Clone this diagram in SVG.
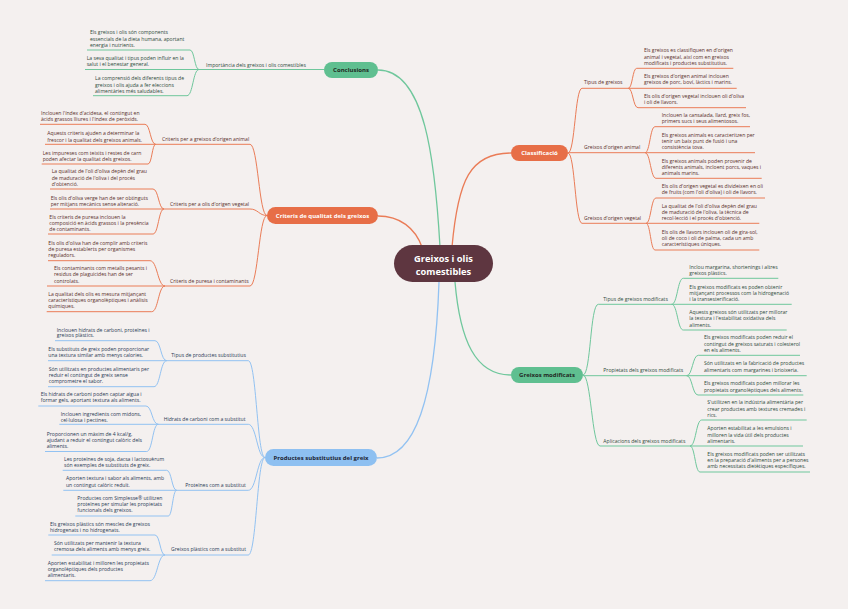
<svg xmlns="http://www.w3.org/2000/svg" width="848" height="609" viewBox="0 0 848 609">
<style>
.t{font-family:"Open Sans","Liberation Sans",sans-serif;font-size:5.1px}
.to{fill:#5a2f2b}.tg{fill:#2f4a3c}.tb{fill:#2a3a55}
.c{fill:none;stroke-width:1}
.co{stroke:#ea7c57}.cg{stroke:#6fc79c}.cb{stroke:#92c2f2}
.m{stroke-width:1.3}
.nt{font-family:"Open Sans","Liberation Sans",sans-serif;font-size:6px;font-weight:bold;text-anchor:middle}
.ct{font-family:"Open Sans","Liberation Sans",sans-serif;font-size:9.3px;font-weight:bold;text-anchor:middle;fill:#ffffff}
</style>
<rect width="848" height="609" fill="#f4f0ef"/>
<g id="connectors">
  <!-- main -->
  <path class="c cg m" d="M378 70 C425 70,435 160,440 247"/>
  <path class="c co m" d="M452 247 C458 180,470 153,511 153"/>
  <path class="c co m" d="M378 216 C400 216,415 228,422 247"/>
  <path class="c cb m" d="M439 282 C435 400,415 458,377 458"/>
  <path class="c cg m" d="M455 282 C460 340,475 375,511 375"/>
  <!-- Conclusions -->
  <path class="c cg" d="M85 69.5 H324"/>
  <path class="c cg" d="M87 50 H190 C194.5 50,194.5 69.5,199 69.5"/>
  <path class="c cg" d="M93 95.7 H187 C193 95.7,193 69.5,199 69.5"/>
  <!-- Criteris -->
  <path class="c co" d="M45 144.3 H250 C258 144.3,259 215.5,267 215.5"/>
  <path class="c co" d="M40 124.3 H145 C150.3 124.3,150.3 144.3,155.7 144.3"/>
  <path class="c co" d="M41.7 164 H148 C152 164,152 144.3,155.7 144.3"/>
  <path class="c co" d="M50 209 H250 C258 209,259 215.5,267 215.5"/>
  <path class="c co" d="M50 189 H153 C158.5 189,158.5 209,164 209"/>
  <path class="c co" d="M48 234 H153 C158.5 234,158.5 209,164 209"/>
  <path class="c co" d="M47 286 H250 C258 286,259 215.5,267 215.5"/>
  <path class="c co" d="M48 260.7 H150 C157.5 260.7,157.5 286,165 286"/>
  <path class="c co" d="M46.7 311.7 H151.7 C158.3 311.7,158.3 286,165 286"/>
  <!-- Productes -->
  <path class="c cb" d="M48 360.7 H248.3 C256.5 360.7,257 457.5,265 457.5"/>
  <path class="c cb" d="M55 340.7 H155 C160.8 340.7,160.8 360.7,166.7 360.7"/>
  <path class="c cb" d="M48 386.7 H154 C160.3 386.7,160.3 360.7,166.7 360.7"/>
  <path class="c cb" d="M59.3 424.3 H248.3 C256.5 424.3,257 457.5,265 457.5"/>
  <path class="c cb" d="M38.3 406 H146 C152 406,152 424.3,158.3 424.3"/>
  <path class="c cb" d="M45 451.5 H146.7 C152.5 451.5,152.5 424.3,158.3 424.3"/>
  <path class="c cb" d="M63.3 490.3 H248.3 C256.5 490.3,257 457.5,265 457.5"/>
  <path class="c cb" d="M62.7 470.3 H166.7 C171.7 470.3,171.7 490.3,176.7 490.3"/>
  <path class="c cb" d="M75.3 516 H168.3 C172.5 516,172.5 490.3,176.7 490.3"/>
  <path class="c cb" d="M51.7 555 H248.3 C256.5 555,257 457.5,265 457.5"/>
  <path class="c cb" d="M48.3 535 H155 C160 535,160 555,165 555"/>
  <path class="c cb" d="M45 580.7 H150 C157.5 580.7,157.5 555,165 555"/>
  <!-- Classificacio -->
  <path class="c co" d="M568 153 C575 153,575 88.3,582 88.3 H736.7"/>
  <path class="c co" d="M628.3 88.3 C632.5 88.3,632.5 68.3,636.7 68.3 H733.3"/>
  <path class="c co" d="M628.3 88.3 C633 88.3,633 107.7,638 107.7 H746"/>
  <path class="c co" d="M568 152.7 H755"/>
  <path class="c co" d="M645 152.7 C650 152.7,650 126.7,655 126.7 H750"/>
  <path class="c co" d="M645 152.7 C650.5 152.7,650.5 178.3,656 178.3 H761.7"/>
  <path class="c co" d="M568 153 C575 153,575 223.3,582 223.3 H759.3"/>
  <path class="c co" d="M646 223.3 C651 223.3,651 198,656 198 H765"/>
  <path class="c co" d="M646 223.3 C650.5 223.3,650.5 250,655 250 H759.3"/>
  <!-- Greixos modificats -->
  <path class="c cg" d="M583 375 C591 375,590 304.3,598.3 304.3 H791.7"/>
  <path class="c cg" d="M671.7 304.3 C677.5 304.3,677.5 278.3,683.3 278.3 H778.3"/>
  <path class="c cg" d="M671.7 304.3 C677.5 304.3,677.5 330,683.3 330 H786.7"/>
  <path class="c cg" d="M583 375.7 H806.7"/>
  <path class="c cg" d="M686.7 375.7 C692.5 375.7,692.5 355.3,698.3 355.3 H800"/>
  <path class="c cg" d="M686.7 375.7 C692.3 375.7,692.3 395,698 395 H803.3"/>
  <path class="c cg" d="M583 375 C591 375,592 446,600 446 H803"/>
  <path class="c cg" d="M690 446 C696 446,696 420,701.7 420 H806.7"/>
  <path class="c cg" d="M690 446 C695 446,695 472,700 472 H810"/>
</g>

<g id="center">
  <rect x="394" y="245" width="99" height="37" rx="18.5" fill="#5e3640"/>
  <text class="ct" x="443.5" y="261.5">Greixos i olis</text>
  <text class="ct" x="443.5" y="274.5">comestibles</text>
</g>

<g id="conclusions">
  <rect x="324" y="62" width="54" height="16" rx="8" fill="#5fbf90"/>
  <text class="nt" x="351" y="72.2" fill="#1f2a24">Conclusions</text>
</g>
<g id="conc-b1" class="t tg"><text x="206" y="67">Importància dels greixos i olis comestibles</text></g>
<g id="conc-l1" class="t tg"><text x="90" y="34">Els greixos i olis són components</text><text x="90" y="40.5">essencials de la dieta humana, aportant</text><text x="90" y="47">energia i nutrients.</text></g>
<g id="conc-l2" class="t tg"><text x="86.7" y="60.4">La seva qualitat i tipus poden influir en la</text><text x="86.7" y="66.4">salut i el benestar general.</text></g>
<g id="conc-l3" class="t tg"><text x="95" y="80">La comprensió dels diferents tipus de</text><text x="95" y="86.5">greixos i olis ajuda a fer eleccions</text><text x="95" y="93">alimentàries més saludables.</text></g>

<g id="criteris">
  <rect x="267" y="207" width="111" height="17" rx="8.5" fill="#e76e47"/>
  <text class="nt" x="322.5" y="217.7" fill="#ffffff">Criteris de qualitat dels greixos</text>
</g>
<g id="crit-b1" class="t to"><text x="162" y="141">Criteris per a greixos d'origen animal</text></g>
<g id="crit-b2" class="t to"><text x="170" y="206">Criteris per a olis d'origen vegetal</text></g>
<g id="crit-b3" class="t to"><text x="170" y="283">Criteris de puresa i contaminants</text></g>
<g id="crit-a1" class="t to"><text x="41" y="114.7">Inclouen l'índex d'acidesa, el contingut en</text><text x="41" y="121.2">àcids grassos lliures i l'índex de peròxids.</text></g>
<g id="crit-a2" class="t to"><text x="47.3" y="135.4">Aquests criteris ajuden a determinar la</text><text x="47.3" y="141.5">frescor i la qualitat dels greixos animals.</text></g>
<g id="crit-a3" class="t to"><text x="42.7" y="155">Les impureses com teixits i restes de carn</text><text x="42.7" y="161">poden afectar la qualitat dels greixos.</text></g>
<g id="crit-v1" class="t to"><text x="51.7" y="173.4">La qualitat de l'oli d'oliva depèn del grau</text><text x="51.7" y="179.7">de maduració de l'oliva i del procés</text><text x="51.7" y="186">d'obtenció.</text></g>
<g id="crit-v2" class="t to"><text x="50.7" y="199.7">Els olis d'oliva verge han de ser obtinguts</text><text x="50.7" y="205.7">per mitjans mecànics sense alteració.</text></g>
<g id="crit-v3" class="t to"><text x="49.3" y="219">Els criteris de puresa inclouen la</text><text x="49.3" y="225">composició en àcids grassos i la presència</text><text x="49.3" y="231">de contaminants.</text></g>
<g id="crit-p1" class="t to"><text x="48.3" y="245">Els olis d'oliva han de complir amb criteris</text><text x="48.3" y="251">de puresa establerts per organismes</text><text x="48.3" y="257">reguladors.</text></g>
<g id="crit-p2" class="t to"><text x="54" y="270.4">Els contaminants com metalls pesants i</text><text x="54" y="276.4">residus de plaguicides han de ser</text><text x="54" y="282.7">controlats.</text></g>
<g id="crit-p3" class="t to"><text x="48.3" y="295.7">La qualitat dels olis es mesura mitjançant</text><text x="48.3" y="302.4">característiques organolèptiques i anàlisis</text><text x="48.3" y="308.4">químiques.</text></g>

<g id="productes">
  <rect x="265" y="449" width="112" height="17" rx="8.5" fill="#8ec0f1"/>
  <text class="nt" x="321" y="459.8" fill="#1c2433">Productes substitutius del greix</text>
</g>
<g id="prod-b1" class="t tb"><text x="171.3" y="357">Tipus de productes substitutius</text></g>
<g id="prod-b2" class="t tb"><text x="163.7" y="421">Hidrats de carboni com a substitut</text></g>
<g id="prod-b3" class="t tb"><text x="185.3" y="487">Proteïnes com a substitut</text></g>
<g id="prod-b4" class="t tb"><text x="171" y="551.4">Greixos plàstics com a substitut</text></g>
<g id="prod-d1" class="t tb"><text x="56.7" y="331.7">Inclouen hidrats de carboni, proteïnes i</text><text x="56.7" y="337.4">greixos plàstics.</text></g>
<g id="prod-d2" class="t tb"><text x="48.3" y="351">Els substituts de greix poden proporcionar</text><text x="48.3" y="357">una textura similar amb menys calories.</text></g>
<g id="prod-d3" class="t tb"><text x="48.7" y="370.7">Són utilitzats en productes alimentaris per</text><text x="48.7" y="377">reduir el contingut de greix sense</text><text x="48.7" y="383.4">comprometre el sabor.</text></g>
<g id="prod-e1" class="t tb"><text x="40.7" y="396">Els hidrats de carboni poden captar aigua i</text><text x="40.7" y="402">formar gels, aportant textura als aliments.</text></g>
<g id="prod-e2" class="t tb"><text x="60.7" y="416">Inclouen ingredients com midons,</text><text x="60.7" y="421.7">cel·lulosa i pectines.</text></g>
<g id="prod-e3" class="t tb"><text x="46.7" y="436">Proporcionen un màxim de 4 kcal/g,</text><text x="46.7" y="442.4">ajudant a reduir el contingut calòric dels</text><text x="46.7" y="448.4">aliments.</text></g>
<g id="prod-f1" class="t tb"><text x="64" y="461">Les proteïnes de soja, dacsa i lactosuèrum</text><text x="64" y="467">són exemples de substituts de greix.</text></g>
<g id="prod-f2" class="t tb"><text x="66" y="480.4">Aporten textura i sabor als aliments, amb</text><text x="66" y="486.7">un contingut calòric reduït.</text></g>
<g id="prod-f3" class="t tb"><text x="77.3" y="500">Productes com Simplesse® utilitzen</text><text x="77.3" y="506.4">proteïnes per simular les propietats</text><text x="77.3" y="512.4">funcionals dels greixos.</text></g>
<g id="prod-g1" class="t tb"><text x="50" y="525.7">Els greixos plàstics són mescles de greixos</text><text x="50" y="531.7">hidrogenats i no hidrogenats.</text></g>
<g id="prod-g2" class="t tb"><text x="54" y="545.4">Són utilitzats per mantenir la textura</text><text x="54" y="551.4">cremosa dels aliments amb menys greix.</text></g>
<g id="prod-g3" class="t tb"><text x="47.7" y="564.7">Aporten estabilitat i milloren les propietats</text><text x="47.7" y="571">organolèptiques dels productes</text><text x="47.7" y="577">alimentaris.</text></g>

<g id="classificacio">
  <rect x="511" y="145" width="57" height="16" rx="8" fill="#e76e47"/>
  <text class="nt" x="539.5" y="155.2" fill="#ffffff">Classificació</text>
</g>
<g id="cls-b1" class="t to"><text x="584" y="84.4">Tipus de greixos</text></g>
<g id="cls-b2" class="t to"><text x="584" y="149.4">Greixos d'origen animal</text></g>
<g id="cls-b3" class="t to"><text x="584" y="220">Greixos d'origen vegetal</text></g>
<g id="cls-h1" class="t to"><text x="644" y="52.4">Els greixos es classifiquen en d'origen</text><text x="644" y="58.7">animal i vegetal, així com en greixos</text><text x="644" y="65">modificats i productes substitutius.</text></g>
<g id="cls-h2" class="t to"><text x="644" y="77.7">Els greixos d'origen animal inclouen</text><text x="644" y="84.4">greixos de porc, boví, làctics i marins.</text></g>
<g id="cls-h3" class="t to"><text x="644" y="98.4">Els olis d'origen vegetal inclouen oli d'oliva</text><text x="644" y="104">i oli de llavors.</text></g>
<g id="cls-i1" class="t to"><text x="661.7" y="117.4">Inclouen la cansalada, llard, greix fos,</text><text x="661.7" y="123.4">primers sucs i seus alimentosos.</text></g>
<g id="cls-i2" class="t to"><text x="661.7" y="136.7">Els greixos animals es caracteritzen per</text><text x="661.7" y="142.7">tenir un baix punt de fusió i una</text><text x="661.7" y="149">consistència tova.</text></g>
<g id="cls-i3" class="t to"><text x="661.7" y="162.7">Els greixos animals poden provenir de</text><text x="661.7" y="168.7">diferents animals, incloent porcs, vaques i</text><text x="661.7" y="174.7">animals marins.</text></g>
<g id="cls-j1" class="t to"><text x="661.7" y="187.7">Els olis d'origen vegetal es divideixen en oli</text><text x="661.7" y="194.4">de fruits (com l'oli d'oliva) i oli de llavors.</text></g>
<g id="cls-j2" class="t to"><text x="661.7" y="207.7">La qualitat de l'oli d'oliva depèn del grau</text><text x="661.7" y="214">de maduració de l'oliva, la tècnica de</text><text x="661.7" y="220">recol·lecció i el procés d'obtenció.</text></g>
<g id="cls-j3" class="t to"><text x="661.7" y="234">Els olis de llavors inclouen oli de gira-sol,</text><text x="661.7" y="240">oli de coco i oli de palma, cada un amb</text><text x="661.7" y="246">característiques úniques.</text></g>

<g id="modificats">
  <rect x="511" y="367" width="72" height="16" rx="8" fill="#5fbf90"/>
  <text class="nt" x="547" y="377.2" fill="#1f2a24">Greixos modificats</text>
</g>
<g id="mod-b1" class="t tg"><text x="603.3" y="300.7">Tipus de greixos modificats</text></g>
<g id="mod-b2" class="t tg"><text x="603.3" y="371.7">Propietats dels greixos modificats</text></g>
<g id="mod-b3" class="t tg"><text x="603.3" y="442.7">Aplicacions dels greixos modificats</text></g>
<g id="mod-k1" class="t tg"><text x="689.3" y="269">Inclou margarina, shortenings i altres</text><text x="689.3" y="275.4">greixos plàstics.</text></g>
<g id="mod-k2" class="t tg"><text x="689.3" y="288.7">Els greixos modificats es poden obtenir</text><text x="689.3" y="295">mitjançant processos com la hidrogenació</text><text x="689.3" y="301">i la transesterificació.</text></g>
<g id="mod-k3" class="t tg"><text x="689.3" y="314">Aquests greixos són utilitzats per millorar</text><text x="689.3" y="320.4">la textura i l'estabilitat oxidativa dels</text><text x="689.3" y="326.7">aliments.</text></g>
<g id="mod-l1" class="t tg"><text x="704" y="339">Els greixos modificats poden reduir el</text><text x="704" y="345.7">contingut de greixos saturats i colesterol</text><text x="704" y="351.7">en els aliments.</text></g>
<g id="mod-l2" class="t tg"><text x="704" y="365.4">Són utilitzats en la fabricació de productes</text><text x="704" y="371.7">alimentaris com margarines i brioixeria.</text></g>
<g id="mod-l3" class="t tg"><text x="704" y="385">Els greixos modificats poden millorar les</text><text x="704" y="391.7">propietats organolèptiques dels aliments.</text></g>
<g id="mod-m1" class="t tg"><text x="707.3" y="404.4">S'utilitzen en la indústria alimentària per</text><text x="707.3" y="410.7">crear productes amb textures cremades i</text><text x="707.3" y="416.7">rics.</text></g>
<g id="mod-m2" class="t tg"><text x="707.3" y="430.4">Aporten estabilitat a les emulsions i</text><text x="707.3" y="436.7">milloren la vida útil dels productes</text><text x="707.3" y="442.7">alimentaris.</text></g>
<g id="mod-m3" class="t tg"><text x="707.3" y="455.7">Els greixos modificats poden ser utilitzats</text><text x="707.3" y="462">en la preparació d'aliments per a persones</text><text x="707.3" y="468.4">amb necessitats dietètiques específiques.</text></g>
</svg>
